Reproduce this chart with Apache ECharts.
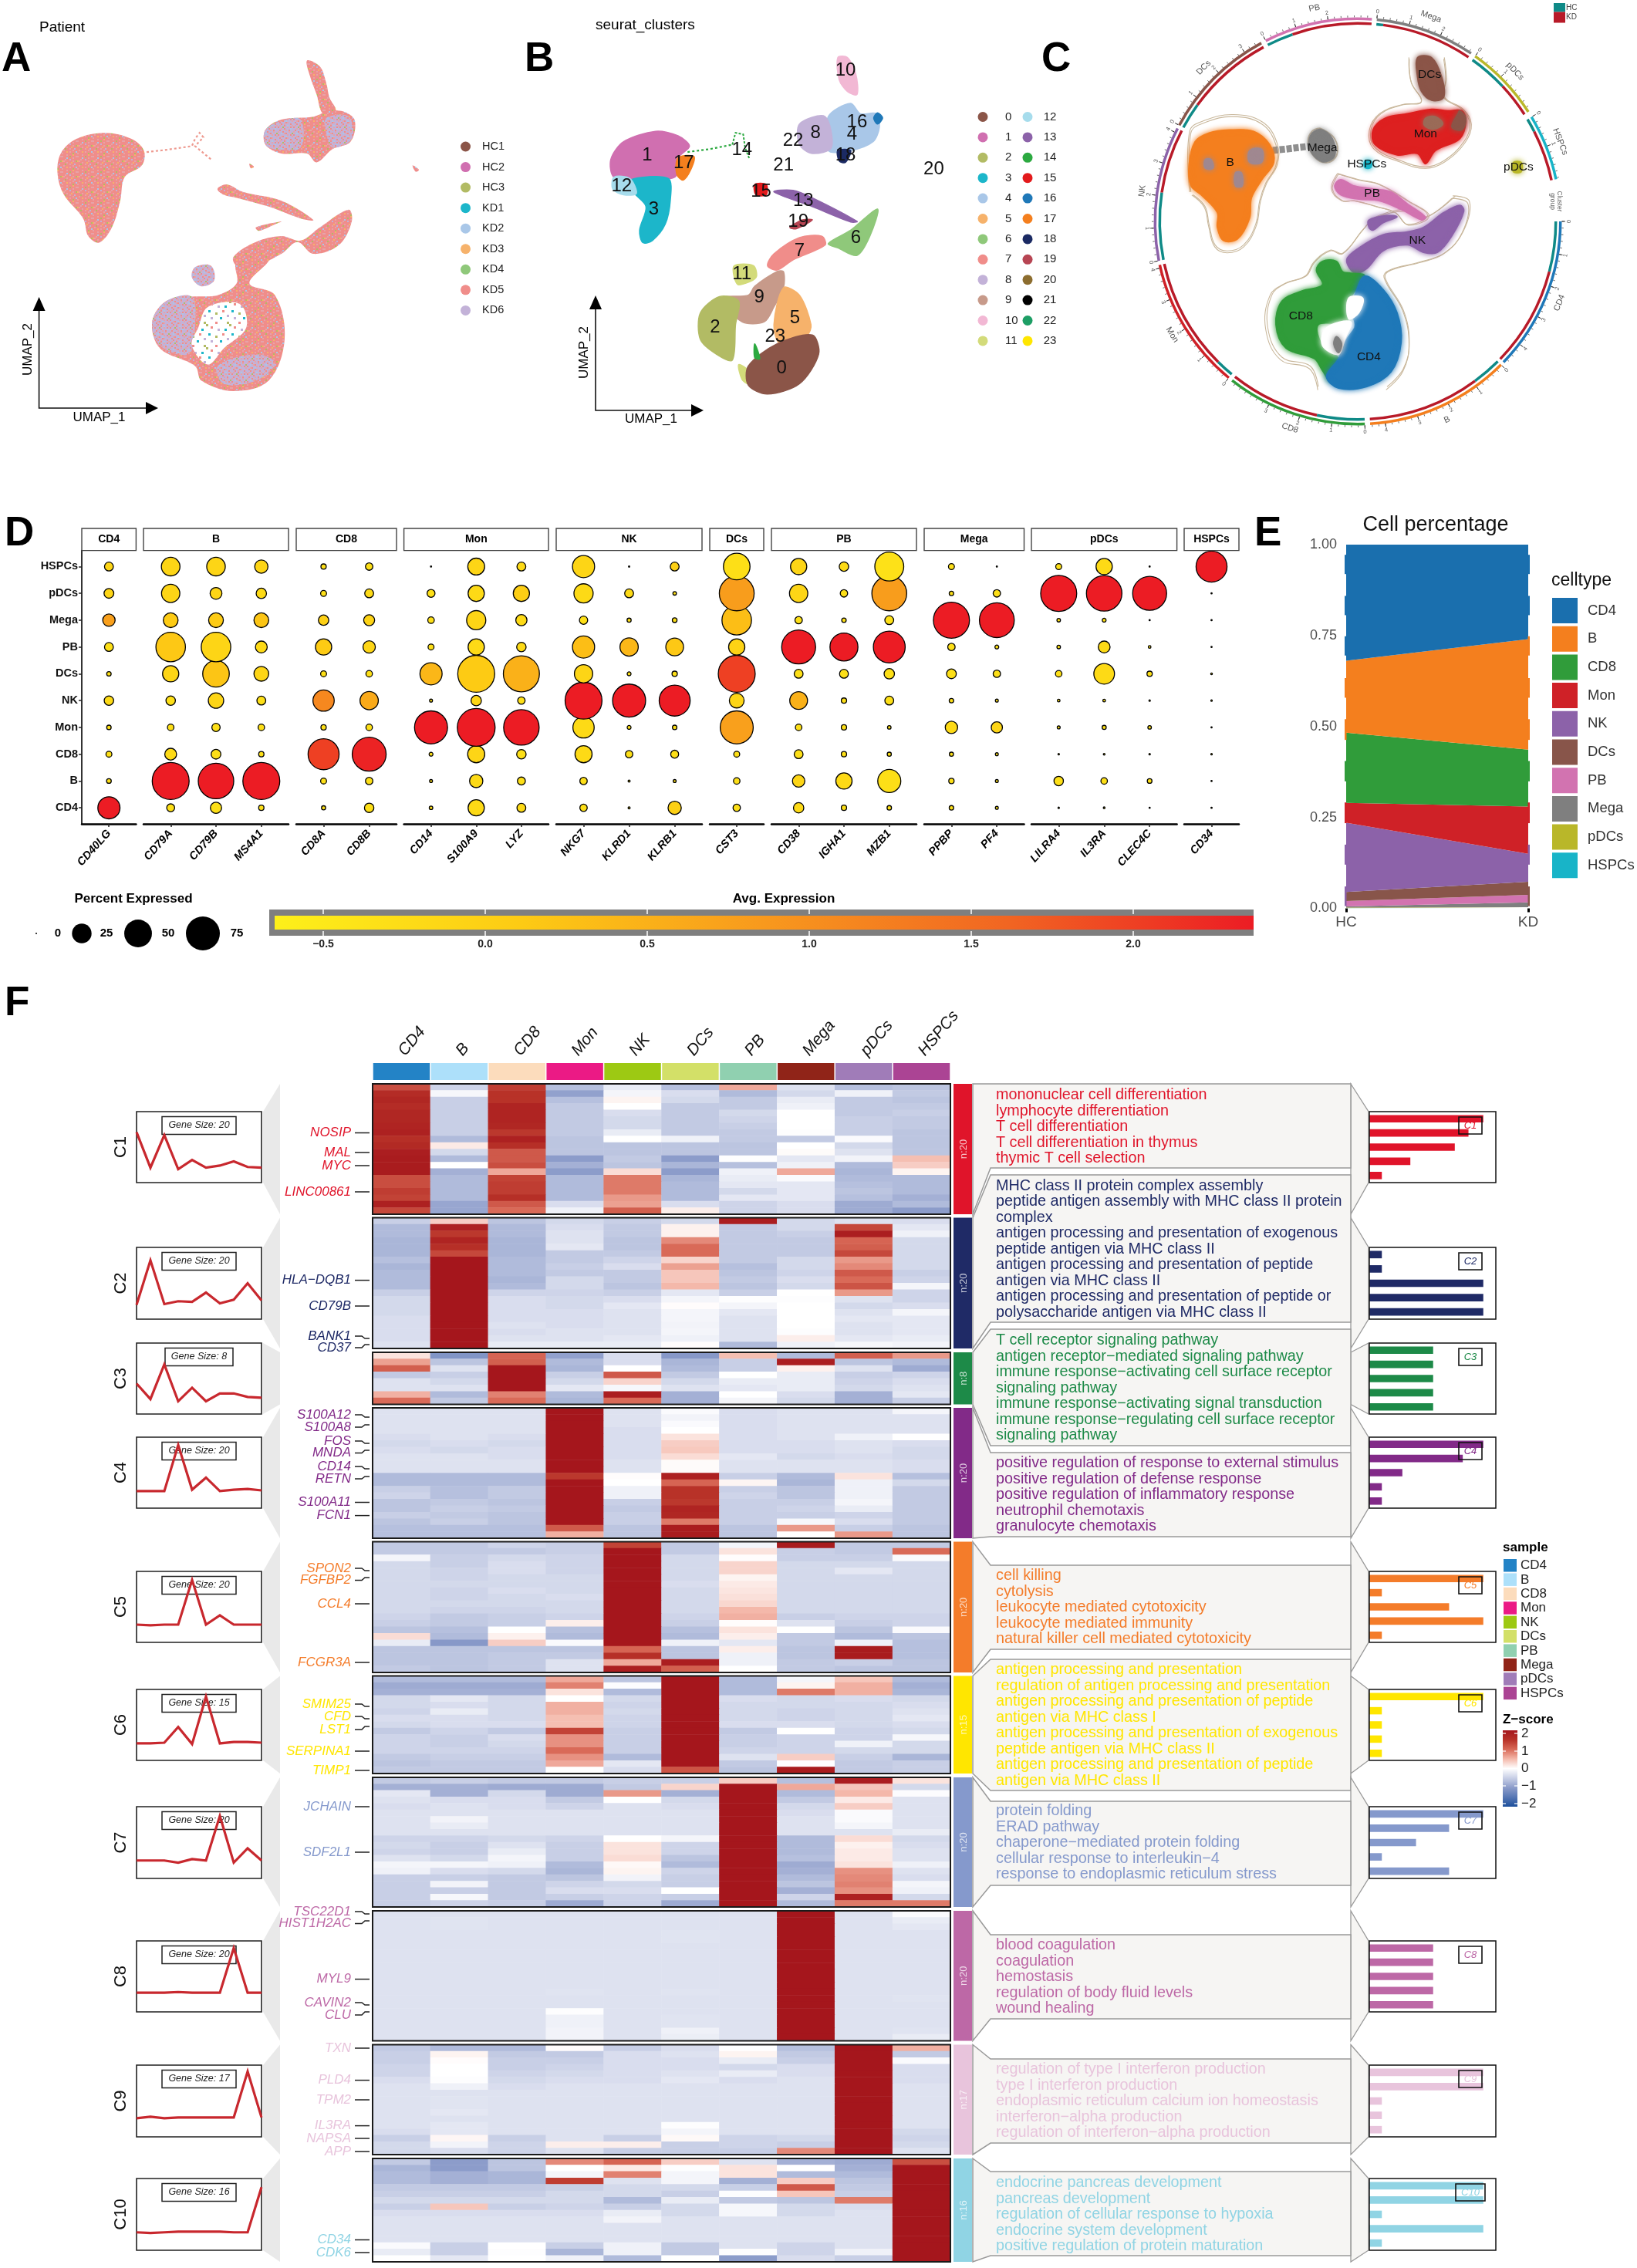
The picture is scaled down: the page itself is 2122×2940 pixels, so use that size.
<!DOCTYPE html>
<html><head><meta charset="utf-8">
<style>html,body{margin:0;padding:0;background:#fff}#c{width:2122px;height:2940px}</style>
<script src="https://cdn.jsdelivr.net/npm/echarts@6/dist/echarts.min.js"></script>
</head><body><div id="c"></div>
<script>
const FONT='"Liberation Sans",Arial,sans-serif';
/* ---------- shared categories ---------- */
const cellTypes=['CD4','B','CD8','Mon','NK','DCs','PB','Mega','pDCs','HSPCs'];
const cellColorsE=['#1a6fae','#f47f1e','#309c3a','#cf2127','#8c62a9','#88554a','#d273b0','#7f7f7f','#b9b729','#18b4c8'];
const sampleColors=['#2383c6','#ade0fa','#fcdcbc','#eb1a85','#9dc913','#d3e068','#90d0b0','#902418','#a07cb8','#ab4494'];
/* ---------- panel A / B legends ---------- */
const patientNames=['HC1','HC2','HC3','KD1','KD2','KD3','KD4','KD5','KD6'];
const patientColors=['#8b5548','#d06fb0','#b2bb64','#1cb6ca','#a9c7e8','#f6b26b','#8fc87a','#f08d8a','#c3b2d8'];
const clusterColors=['#8b5548','#d06fb0','#b2bb64','#1cb6ca','#a9c7e8','#f6b26b','#8fc87a','#f08d8a','#c3b2d8','#c79a8a','#f2b8d4','#d3db7a','#a6dcec','#8c62a9','#2ca940','#e31a1c','#1f78b8','#f47f1e','#1b2a63','#b74553','#8c6d2f','#000000','#1d9e65','#ffe600'];
/* ---------- panel A UMAP outlines ---------- */
const umapA=[
 {t:'mix',pts:[[165,450],[205,470],[225,510],[222,560],[195,600],[188,680],[175,770],[155,822],[138,800],[130,740],[100,660],[90,590],[95,520],[120,470]]},
 {t:'mix',pts:[[415,440],[440,405],[490,395],[515,375],[540,380],[555,410],[548,480],[520,505],[495,550],[480,520],[440,520],[415,490]]},
 {t:'pur',pts:[[415,440],[440,410],[470,405],[470,500],[430,505],[415,490]]},
 {t:'pur',pts:[[510,400],[545,395],[550,470],[520,500],[510,450]]},
 {t:'mix',pts:[[480,205],[500,225],[510,280],[515,330],[525,375],[505,385],[495,320],[485,260]]},
 {t:'mix',pts:[[545,710],[550,750],[530,830],[490,860],[465,820],[440,860],[400,900],[370,900],[365,870],[400,820],[440,800],[470,815],[500,770]]},
 {t:'mix',pts:[[370,890],[420,880],[390,960],[430,1000],[445,1150],[420,1290],[365,1325],[315,1290],[305,1240],[250,1180],[238,1090],[260,1020],[300,1005],[340,1000],[370,960]]},
 {t:'pur',pts:[[238,1090],[260,1020],[300,1005],[305,1100],[295,1200],[250,1170]]},
 {t:'pur',pts:[[340,1240],[400,1200],[430,1230],[400,1290],[350,1300]]},
 {t:'hole',pts:[[325,1040],[375,1030],[385,1110],[350,1180],[325,1235],[300,1170],[310,1110]]},
 {t:'mix',pts:[[340,640],[355,625],[380,650],[440,680],[490,745],[470,740],[420,700],[370,670],[350,660]]},
 {t:'mix',pts:[[400,770],[440,750],[430,760],[405,782]]},
 {t:'pur',pts:[[305,905],[330,900],[335,950],[315,970],[300,940]]},
 {t:'mix',pts:[[645,560],[655,575],[650,582]]},
 {t:'mix',pts:[[390,555],[397,565],[392,570]]}
];
const threadsA=[
 {color:'#ee9a90',w:2.2,dash:[3,3],pts:[[222,517],[262,507],[300,495],[305,470],[312,450],[318,465],[305,495],[330,540]]}
];
/* ---------- panel B UMAP outlines ---------- */
const umapB=[
 {c:1,pts:[[1025,445],[1060,460],[1078,495],[1060,535],[1055,600],[1000,605],[960,600],[955,540],[975,480]]},
 {c:3,pts:[[985,610],[1045,605],[1048,680],[1040,760],[1020,815],[1005,822],[1000,780],[1010,700],[990,650]]},
 {c:12,pts:[[960,600],[985,605],[995,655],[975,660],[958,640]]},
 {c:17,pts:[[1060,535],[1085,530],[1080,575],[1068,610],[1058,590]]},
 {c:10,pts:[[1310,195],[1325,195],[1338,250],[1340,320],[1325,310],[1312,270]]},
 {c:4,pts:[[1295,395],[1330,350],[1345,385],[1370,385],[1375,430],[1365,480],[1330,510],[1295,510]]},
 {c:8,pts:[[1250,420],[1290,395],[1300,500],[1270,520],[1250,490]]},
 {c:16,pts:[[1372,382],[1380,400],[1372,420],[1366,400]]},
 {c:18,pts:[[1310,510],[1330,510],[1322,550],[1312,545]]},
 {c:15,pts:[[1180,625],[1198,625],[1198,660],[1182,660]]},
 {c:13,pts:[[1210,650],[1240,645],[1270,670],[1340,750],[1330,752],[1270,700]]},
 {c:19,pts:[[1235,770],[1255,745],[1270,745],[1245,775]]},
 {c:6,pts:[[1372,708],[1360,800],[1340,865],[1310,840],[1295,825],[1330,780]]},
 {c:7,pts:[[1250,805],[1285,800],[1290,830],[1240,880],[1215,915],[1200,900],[1210,860]]},
 {c:11,pts:[[1148,900],[1178,900],[1182,940],[1155,965],[1148,940]]},
 {c:9,pts:[[1215,920],[1225,920],[1225,975],[1210,1040],[1195,1090],[1160,1090],[1130,1010],[1170,1000],[1180,970]]},
 {c:2,pts:[[1125,1005],[1155,1020],[1150,1100],[1145,1220],[1120,1200],[1095,1150],[1095,1060]]},
 {c:5,pts:[[1225,975],[1250,1000],[1268,1100],[1262,1135],[1220,1165],[1210,1100]]},
 {c:11,pts:[[1155,1235],[1172,1260],[1170,1300],[1160,1285]]},
 {c:0,pts:[[1270,1135],[1280,1200],[1250,1300],[1200,1335],[1170,1305],[1170,1240],[1215,1165]]},
 {c:14,pts:[[1180,1165],[1188,1215],[1180,1212]]}
];
const threadsB=[{color:'#2ca940',w:2.2,dash:[3,3],pts:[[1075,515],[1110,505],[1145,490]]},{color:'#2ca940',w:2,dash:[3,2],pts:[[1145,490],[1150,450],[1162,455],[1165,500],[1172,540]]}];
const labelsB=[['1',1012,525],['12',972,632],['3',1022,710],['17',1069,552],['14',1160,508],['10',1322,240],['8',1275,450],['4',1332,457],['16',1340,415],['22',1240,477],['21',1225,560],['18',1322,527],['20',1460,573],['15',1190,650],['13',1256,680],['19',1248,752],['6',1338,805],['7',1250,850],['11',1160,930],['9',1187,1008],['5',1243,1077],['2',1118,1108],['23',1212,1140],['0',1222,1248]];
/* ---------- panel C UMAP outlines ---------- */
const umapC=[
 {color:'#f47f1e',pts:[[560,440],[620,445],[660,490],[670,550],[640,610],[615,670],[610,740],[580,810],[545,815],[530,770],[530,720],[490,660],[465,630],[460,560],[475,480],[510,450]]},
 {color:'#7f7f7f',pts:[[785,438],[815,470],[820,530],[790,548],[760,510],[760,460]]},
 {color:'#dd2020',pts:[[1000,385],[1060,370],[1100,375],[1135,375],[1145,410],[1130,470],[1070,510],[1045,555],[1025,520],[975,525],[920,490],[915,440],[945,400]]},
 {color:'#8b5548',pts:[[1025,195],[1060,195],[1085,260],[1090,330],[1060,340],[1035,310],[1025,260]]},
 {color:'#8b5548',pts:[[1130,375],[1145,400],[1135,440],[1110,430],[1125,385]]},
 {color:'#9a6b58',pts:[[1045,400],[1070,395],[1088,420],[1065,438],[1042,425]]},
 {color:'#18b4c8',pts:[[895,545],[910,545],[910,568],[895,568]]},
 {color:'#b9b729',pts:[[1262,550],[1282,550],[1282,582],[1262,582]]},
 {color:'#d273b0',pts:[[835,608],[870,630],[920,640],[960,650],[1000,690],[1045,735],[1035,745],[985,710],[930,680],[880,675],[835,660],[820,630]]},
 {color:'#8c62a9',pts:[[1130,695],[1140,715],[1110,800],[1075,855],[1040,855],[1000,830],[940,850],[900,910],[870,925],[850,880],[880,840],[940,795],[1000,785],[1040,770],[1090,720]]},
 {color:'#8c62a9',pts:[[905,745],[950,730],[975,735],[940,755],[915,780],[905,770]]},
 {color:'#309c3a',pts:[[790,885],[825,885],[840,920],[860,925],[895,935],[860,1010],[850,1090],[780,1100],[790,1170],[830,1215],[810,1290],[790,1255],[770,1215],[700,1180],[675,1100],[690,1020],[740,985],[790,965],[775,915]]},
 {color:'#1f78b8',pts:[[895,935],[940,980],[975,1060],[985,1160],[960,1260],[900,1310],[830,1315],[800,1275],[830,1215],[850,1150],[870,1110],[870,1090],[860,1050],[870,1000]]},
 {color:'#ffffff',pts:[[800,1110],[860,1090],[845,1150],[830,1200],[790,1170]]},
 {color:'#ffffff',pts:[[855,1010],[890,1010],[880,1060],[855,1080]]},
 {color:'#7f7f7f',pts:[[825,1140],[838,1165],[830,1195],[818,1165]]},
 {color:'#a08890',pts:[[610,510],[640,505],[640,550],[610,550]]},
 {color:'#a08890',pts:[[500,540],[515,540],[520,570],[500,570]]},
 {color:'#a08890',pts:[[575,585],[590,585],[592,630],[575,630]]}
];
const threadsC=[{color:'#8f8f8f',w:9,dash:[7,2],pts:[[650,512],[700,505],[760,495]]}];
const contoursC=[
 [[465,650],[465,450],[500,415],[570,395],[640,420],[675,490],[675,560],[650,620],[635,680],[625,760],[595,830],[555,850],[525,830],[510,760],[500,700],[470,660]],
 [[1005,200],[1010,280],[1035,345],[990,355],[935,385],[910,440],[920,500],[985,545],[1045,565],[1090,545],[1140,480],[1155,420],[1135,370],[1090,330],[1095,270],[1090,200]],
 [[785,435],[820,470],[825,525],[800,550],[770,530],[755,480],[765,445],[785,435]],
 [[830,590],[880,610],[930,625],[1000,680],[1050,730],[1000,760],[970,720],[925,700],[870,680],[840,680],[815,640],[830,590]],
 [[1110,672],[1150,690],[1135,790],[1090,860],[1030,890],[960,915],[945,940],[990,1050],[1005,1160],[990,1250],[950,1310]],
 [[780,1310],[760,1240],[690,1210],[655,1110],[665,1000],[700,960],[750,935],[770,890],[810,850],[840,860],[890,780],[920,740],[1000,715],[1040,740],[1110,672]]
];
const labelsC=[['B',562,550],['Mega',790,502],['DCs',1055,252],['Mon',1045,455],['HSPCs',900,555],['pDCs',1275,566],['PB',913,656],['NK',1025,815],['CD8',737,1072],['CD4',905,1210]];
/* circular track, degrees clockwise from east */
const sectorNames=['CD4','B','CD8','Mon','NK','DCs','PB','Mega','pDCs','HSPCs'];
const sectorStart=[0,45,88,129.5,168.8,208.3,243,275.4,305.4,329];
const sectorEnd=[44,86.5,128.3,167.6,207.3,241.6,274,304,327.3,348];
const sectorHcEnd=[14.7,53.7,101.9,134.8,188.4,216,250.8,277.4,317,333];
const sectorColors=['#1f78b8','#f47f1e','#309c3a','#cf2127','#8c62a9','#88554a','#d273b0','#7f7f7f','#b9b729','#18b4c8'];
const sectorTicks=[5,5,4,5,5,4,3,3,2,2];
/* ---------- panel D ---------- */
const dotRows=['CD4','B','CD8','Mon','NK','DCs','PB','Mega','pDCs','HSPCs'];
const facetNames=['CD4','B','CD8','Mon','NK','DCs','PB','Mega','pDCs','HSPCs'];
const facetGenes=[['CD40LG'],['CD79A','CD79B','MS4A1'],['CD8A','CD8B'],['CD14','S100A9','LYZ'],['NKG7','KLRD1','KLRB1'],['CST3'],['CD38','IGHA1','MZB1'],['PPBP','PF4'],['LILRA4','IL3RA','CLEC4C'],['CD34']];
const pctExpressed=[
[32,1.45,2.3,1.3,5.8,1.3,5.1,10,6.2,5.1],
[4.1,88.8,9.1,2.75,5.8,17.2,56.8,14.2,21.8,22.5],
[8.2,82,6.2,4.45,15.4,46,56.8,14.2,9.1,22.5],
[1.84,88.8,1.84,2.75,5.1,14.2,9.1,14.2,7,11.5],
[1.1,2.3,62.6,1.84,29.5,2.3,17.2,7,2.3,1.84],
[5.8,3.55,75,2.75,21.8,2.75,10,7.8,5.1,3.55],
[.82,.57,.96,71,.57,32,2.3,2.75,4.1,.05],
[17.2,11.5,19,93,7,88.8,17.2,24,17.2,18.5],
[5.1,4.1,5.8,82,3.55,84.6,5.8,8.2,17.2,5.1],
[3.55,3.55,19,29.5,88.8,21.8,32,4.45,24,32],
[.28,.28,3.55,.96,71,.96,21.8,1.1,5.1,.1],
[11.5,.57,4.1,1.3,62.6,1.84,20.5,1.45,.82,5.1],
[3.55,2.75,2.3,71,14.2,88.8,17.2,56.8,79,46],
[7,10,5.1,2.75,20.5,5.1,75,3.55,21.8,17.2],
[1.84,17.2,1.84,1.84,1.84,5.1,51,1.3,3.55,5.8],
[1.3,34.6,1.1,.82,5.1,7,66,5.1,79,54.6],
[1.3,1.84,1.1,10,1.3,6.2,3.55,84.6,1.3,2.3],
[.57,.57,.57,8.2,.57,3.55,.96,79,3.55,.05],
[.14,5.8,.14,.57,.46,2.75,.82,.82,84.6,2.3],
[.2,2.75,.2,1.1,.46,27.8,9.1,.96,82,17.2],
[.05,1.45,.14,.82,.14,1.84,.46,.05,75,.05],
[.1,.02,.14,.02,.14,.2,.02,.02,.05,62.6]];
const avgExpression=[
[2.37,-.3,-.3,-.3,-.2,-.3,-.3,.75,-.1,-.1],
[-.3,2.37,-.2,-.3,-.3,-.1,.15,.1,-.1,-.1],
[-.3,2.37,-.3,-.3,-.1,.2,-.1,.1,-.1,-.1],
[-.3,2.37,-.3,-.3,-.3,-.1,-.2,.2,-.2,-.1],
[-.3,-.3,2,-.3,1.1,-.3,.1,0,-.3,-.3],
[-.3,-.3,2.3,-.3,.6,-.3,-.1,-.05,-.2,-.3],
[-.3,-.3,-.3,2.37,-.3,.4,-.3,-.3,-.3,-.3],
[-.2,-.2,-.1,2.37,-.1,.1,-.2,-.1,-.2,-.1],
[-.2,-.3,-.3,2.37,-.3,.5,-.2,-.2,.05,-.2],
[-.3,-.3,-.2,-.2,2.37,-.1,.3,-.3,-.2,-.1],
[-.3,-.3,-.3,-.3,2.37,-.3,.4,-.3,-.2,-.3],
[0,-.3,-.3,-.3,2.37,-.3,.15,-.3,-.3,0],
[-.3,-.3,-.3,.75,-.1,2,-.05,.3,.8,-.3],
[-.2,-.1,-.3,-.3,.5,-.3,2.37,-.3,-.1,-.1],
[-.3,-.2,-.3,-.3,-.3,-.3,2.37,-.3,-.3,-.2],
[-.3,-.3,-.3,-.3,-.3,-.3,2.37,-.3,.8,-.35],
[-.3,-.3,-.3,-.2,-.3,-.3,-.3,2.37,-.3,-.3],
[-.3,-.3,-.3,-.1,-.3,-.3,-.3,2.37,-.3,-.3],
[-.3,-.3,-.3,-.3,-.3,-.3,-.3,-.3,2.37,-.3],
[-.3,-.3,-.3,-.3,-.3,-.2,-.2,-.3,2.37,-.2],
[-.3,-.3,-.3,-.3,-.3,-.3,-.3,-.3,2.37,-.3],
[-.3,-.3,-.3,-.3,-.3,-.3,-.3,-.3,-.3,2.37]];
const exprTicks=[-0.5,0,0.5,1,1.5,2];
const exprColors=['#fdf01a','#fdcb14','#f8991d','#f16522','#ec1c24'];
/* ---------- panel E ---------- */
const hcShare=[.319,.198,.193,.055,.19,.025,.015,.003,.0015,.0005];
const kdShare=[.26,.304,.156,.13,.077,.036,.021,.013,.0025,.0005];
/* stratum bumps on the two edges: value range and colour */
const bumpRanges=[[.972,.919],[.859,.806],[.748,.695],[.633,.579],[.52,.463],[.405,.349],[.291,.234],[.175,.12],[.06,.006]];
const bumpColorsHC=['#1a6fae','#1a6fae','#1a6fae','#f47f1e','#f47f1e','#309c3a','#cf2127','#8c62a9','#8c62a9'];
const bumpColorsKD=['#1a6fae','#1a6fae','#f47f1e','#f47f1e','#f47f1e','#309c3a','#cf2127','#8c62a9','#88554a'];
/* ---------- panel F ---------- */
const clusterColorF=['#e0142a','#1f2a66','#1d8a48','#822a88','#f47c2a','#ffe600','#8599cc','#bd68a6','#e8c4dc','#90d4e4'];
const geneSize=[20,20,8,20,20,15,20,20,17,16];
const heatC1=[
[1.25,-.45,1.4,-.65,-.2,-.65,.6,-.3,-.65,-.6],[1.6,-.08,1.5,-.95,-.1,-.35,-.7,-.4,-.15,-.55],[1.7,-.5,1.5,-.65,.08,-.4,-.55,-.2,-.55,-.6],[1.6,-.5,1.75,-.55,0,-.55,-.55,-.15,-.55,-.55],[1.7,-.5,1.75,-.55,-.35,-.55,-.4,0,-.55,-.5],[1.7,-.5,1.75,-.55,-.4,-.55,-.45,0,-.5,-.55],[1.75,-.5,1.7,-.55,-.4,-.55,-.5,0,-.5,-.55],[1.8,-.5,1.45,-.55,-.2,-.55,-.55,-.02,-.5,-.6],[1.55,-.7,1.8,-.6,0,-.15,-.55,-.55,-.05,-.6],[1.65,.15,1.55,-.6,-.6,-.6,-.6,0,-.4,-.6],
[1.85,-.4,1.15,-.6,-.6,-.6,-.6,.03,-.3,-.6],[1.9,-.7,1.15,-1,-.55,-1,-.02,-.25,-.12,.45],[1.9,0,1.25,-.8,-.6,-.75,-.65,-.15,-.7,.35],[1.9,-.8,.6,-1,.25,-1,-.15,.6,-.75,.08],[1.25,-.7,1.35,-.7,.9,-.75,-.2,-.05,-.7,-.7],[1.25,-.7,1.4,-.7,.9,-.7,-.25,-.25,-.65,-.7],[1.4,-.7,1.4,-.7,.9,-.7,-.4,-.25,-.6,-.7],[1.35,-.7,1.55,-.7,.7,-.7,-.25,-.25,-.65,-.8],[1.8,-.9,1.15,-.35,.65,-.35,-.45,-.35,-.85,-.7],[1.3,-.9,1,-.15,1.1,.12,-.45,-.35,-.85,-1]];
const heatC2=[
[-.5,.35,-.6,-.4,-.5,-.4,1.85,-.4,-.3,-.35],[-.7,1.8,-.7,-.35,-.55,.1,-.55,-.4,1.3,-.25],[-.7,1.45,-.7,-.3,-.55,.1,-.55,-.5,1.85,-.15],[-.75,1.75,-.75,-.3,-.6,.8,-.55,-.55,1.05,-.4],[-.75,1.55,-.75,-.25,-.6,1,-.55,-.55,1.1,-.4],[-.75,1.3,-.75,-.55,-.55,1,-.55,-.55,1.3,-.4],[-.65,2,-.7,-.55,-.45,.3,-.55,-.4,.7,-.4],[-.75,2,-.7,-.5,-.35,.65,-.65,-.4,.8,-.4],[-.7,2,-.7,-.55,-.55,.4,-.6,-.45,1.15,-.5],[-.7,2,-.75,-.4,-.55,.4,-.55,-.35,1,-.45],
[-.7,2,-.7,-.4,-.6,.5,-.6,-.4,1.2,-.1],[-.5,2,-.45,-.45,-.5,-.25,-.5,0,.7,-.45],[-.4,2,-.35,-.4,-.35,-.1,-.02,-.02,-.3,-.45],[-.4,2,-.35,-.4,-.25,.02,-.1,0,-.4,-.35],[-.4,2,-.35,-.35,-.3,-.1,-.25,0,-.3,-.1],[-.35,2,-.35,-.35,-.3,-.1,-.3,0,-.25,-.25],[-.35,2,-.3,-.35,-.3,-.12,-.3,0,-.3,-.25],[-.35,2,-.35,-.3,-.3,-.1,-.3,-.02,-.3,-.25],[-.35,2,-.3,-.3,-.25,-.15,-.3,.12,-.25,-.2],[-.3,2,-.2,-.2,-.2,.02,-.7,-.15,-.08,-.12]];
const heatC3=[
[.2,-1.1,1.05,-.95,-.35,-1.05,.45,-.7,1.1,.7],[.65,-.6,1.1,-.7,-.35,-.75,-.5,1.85,-.6,-.7],[1.1,-.3,2,-.75,0,-.7,-.5,.1,-.3,-.85],[-.55,-.5,2,-.5,1.15,-.55,0,-.2,-.5,-.45],[-.3,-.4,2,-.4,.3,-.4,-.2,-.2,-.45,-.35],[-.3,-.3,2,-.25,-.08,-.3,-.25,-.2,-.4,-.3],[.55,-.7,.85,-.7,1.85,-.8,0,-.35,-.8,-.25],[1,-.55,1,-.75,1,-.8,-.1,-.4,-.8,-.5]];
const heatC4=[
[-.3,-.3,-.3,2,-.3,-.05,-.35,-.3,-.3,-.1],[-.3,-.3,-.3,2,-.3,-.12,-.35,-.3,-.3,-.3],[-.3,-.3,-.3,2,-.3,-.05,-.35,-.3,-.3,-.3],[-.3,-.3,-.3,2,-.35,0,-.35,-.3,-.3,-.3],[-.35,-.3,-.35,2,-.35,.2,-.35,-.3,-.15,0],[-.4,-.35,-.4,2,-.35,.35,-.35,-.35,-.3,-.35],[-.35,-.4,-.35,2,-.35,.38,-.35,-.35,-.3,-.4],[-.3,-.3,-.35,2,-.35,.25,-.25,-.4,-.35,-.4],[-.3,-.3,-.3,2,-.3,.03,-.3,-.3,-.3,-.35],[-.3,-.3,-.3,2,-.3,.03,-.3,-.3,-.3,-.35],
[-.7,-.7,-.7,1.45,.02,1.8,-.5,-.7,.2,-.65],[-.7,-.7,-.7,2,0,1.05,.07,-.75,-.15,-.4],[-.5,-.65,-.55,2,-.15,1.5,-.5,-.6,-.15,-.55],[-.45,-.65,-.55,2,-.15,1.5,-.45,-.6,-.15,-.55],[-.6,-.55,-.6,2,-.5,1.45,-.5,-.5,-.1,-.55],[-.6,-.5,-.55,2,-.55,1.75,-.5,-.45,-.2,-.55],[-.5,-.55,-.6,2,-.5,1.7,-.5,-.5,-.45,-.55],[-.6,-.5,-.6,2,-.5,.9,-.5,-.08,-.35,-.55],[-.65,-.65,-.65,1.15,-.6,1.9,-.6,.7,-.5,-.6],[-.65,-.65,-.65,.55,-.6,1.9,-.6,0,.7,-.6]];
const heatC5=[
[-.55,-.55,-.45,-.5,1.35,-.55,-.1,1.9,-.55,-.55],[-.55,-.55,-.55,-.5,2,-.55,.2,-.5,-.55,1],[-.1,-.5,-.4,-.45,2,-.4,.02,-.5,-.5,-.05],[-.4,-.5,-.35,-.45,2,-.4,.3,-.4,-.4,-.4],[-.4,-.45,-.35,-.45,2,-.4,.3,-.4,-.25,-.4],[-.4,-.45,-.4,-.4,2,-.4,.08,-.4,-.4,-.4],[-.4,-.4,-.4,-.4,2,-.35,.15,-.4,-.4,-.4],[-.4,-.45,-.35,-.4,2,-.4,.18,-.4,-.4,-.4],[-.4,-.45,-.4,-.35,2,-.4,.22,-.4,-.4,-.4],[-.4,-.4,-.4,-.4,2,-.4,.28,-.4,-.4,-.4],
[-.4,-.45,-.45,-.4,2,-.4,.5,-.4,-.4,-.4],[-.45,-.55,-.5,-.45,2,-.45,.55,-.5,-.45,-.45],[-.5,-.55,-.5,.12,2,-.5,.02,-.3,-.5,-.45],[-.6,-.65,0,-.65,2,-.65,.2,0,-.6,-.05],[.25,-.7,.1,-.7,2,-.7,.12,-.55,-.7,-.6],[-.2,-1.05,.35,-.05,2,-.15,-.25,-.55,-.15,-.65],[-.6,-.6,-.6,-.6,1.05,-.6,.12,-.6,1.9,-.65],[-.6,-.6,-.55,-.55,1.55,-.6,-.15,-.6,1.9,-.65],[-.6,-.6,-.55,-.3,.6,1.85,-.15,-.55,-.5,-.6],[-.55,-.6,-.55,-.3,1.85,1.1,0,-.55,-.6,-.6]];
const heatC6=[
[-.7,-.7,-.7,.6,-.6,2,-.7,-.1,.4,-.7],[-.85,-.85,-.85,.85,-.03,2,-.7,.08,.55,-.8],[-.8,-.8,-.8,.2,-.7,2,-.7,.9,.55,-.75],[-.4,-.25,-.4,0,-.4,2,-.35,-.4,-.35,-.4],[-.4,-.35,-.4,.55,-.45,2,-.4,-.4,-.4,-.35],[-.45,-.2,-.4,.55,-.4,2,-.4,-.45,-.4,-.3],[-.35,-.35,-.4,.45,-.45,2,-.4,-.45,-.4,-.25],[-.4,-.35,-.35,.45,-.45,2,-.35,-.35,-.4,-.35],[-.55,-.45,-.55,1.35,-.5,2,-.55,0,-.45,-.4],[-.45,-.5,-.35,.75,-.5,2,-.5,-.45,-.45,-.08],[-.45,-.5,-.4,.75,-.5,2,-.5,-.45,-.15,-.4],[-.45,-.45,-.45,1,-.5,2,-.45,-.45,-.4,-.4],[-.55,-.5,-.5,.75,-.7,2,-.3,.35,-.5,-.75],[-.6,-.55,-.55,.6,-.25,2,-.55,0,-.55,-.5],[-.55,-.55,-.55,0,-.35,1.2,-.6,1.9,-.55,-.5]];
const heatC7=[
[-.55,-.5,-.55,-.55,-.5,-.5,.35,-.65,1.85,.2],[-.8,-.8,-.85,-.85,-.55,.3,2,.6,.4,-.4],[-.25,-.8,-.4,-.85,.7,-.8,2,-.7,.5,-.03],[-.3,-.35,-.35,-.55,0,-.4,2,-.55,.15,-.3],[-.35,-.3,-.35,-.45,-.3,-.35,2,-.4,.35,-.3],[-.3,-.3,-.3,-.3,-.3,-.3,2,-.35,-.05,-.3],[-.3,-.12,-.3,-.3,-.3,-.3,2,-.3,-.05,-.3],[-.3,-.2,-.3,-.3,-.3,-.3,2,-.3,-.1,-.3],[-.3,-.3,-.3,-.3,-.3,-.3,2,-.3,-.3,-.2],[-.45,-.45,-.4,-.45,0,-.1,2,-.7,.25,-.4],
[-.4,-.5,-.3,-.5,.2,-.45,2,-.7,.1,-.35],[-.45,-.5,-.2,-.5,.2,-.45,2,-.7,.15,-.3],[-.3,-.4,-.1,-.5,.25,-.6,2,-.65,.15,-.3],[-.1,-.1,-.15,-.7,.05,-.7,2,-.85,.2,-.15],[-.15,-.35,-.4,-.75,.08,-.45,2,-.8,.75,-.3],[-.5,-.5,-.55,-.6,-.12,-.5,2,-.7,.8,-.35],[-.5,-.12,-.55,-.45,-.4,-.5,2,-.6,.85,-.1],[-.5,-.5,-.55,-.35,-.35,0,2,-.8,.75,-.15],[-.5,-.08,-.55,-.5,-.45,-.5,2,-.45,1.8,-.4],[-.5,-.45,-.5,-.85,-.45,-.85,1.95,-.7,.9,.9]];
const heatC8=[
[-.3,-.3,-.3,-.3,-.3,-.3,-.3,2,-.3,-.05],[-.3,-.28,-.3,-.3,-.3,-.3,-.3,2,-.3,-.2],[-.3,-.28,-.3,-.3,-.3,-.3,-.3,2,-.3,-.25],[-.3,-.3,-.3,-.3,-.3,-.28,-.3,2,-.3,-.3],[-.3,-.3,-.3,-.3,-.3,-.28,-.3,2,-.3,-.3],[-.3,-.3,-.3,-.3,-.3,-.3,-.3,2,-.3,-.3],[-.3,-.3,-.3,-.3,-.3,-.3,-.3,2,-.3,-.3],[-.3,-.3,-.3,-.3,-.3,-.3,-.3,2,-.3,-.3],[-.3,-.3,-.3,-.3,-.3,-.3,-.3,2,-.3,-.3],[-.3,-.3,-.3,-.3,-.3,-.3,-.3,2,-.3,-.3],
[-.3,-.3,-.3,-.3,-.3,-.3,-.3,2,-.3,-.3],[-.3,-.3,-.3,-.3,-.3,-.3,-.3,2,-.3,-.3],[-.3,-.3,-.3,-.28,-.3,-.28,-.3,2,-.3,-.3],[-.3,-.3,-.3,-.3,-.3,-.3,-.3,2,-.3,-.28],[-.3,-.3,-.3,-.3,-.3,-.3,-.3,2,-.3,-.3],[-.3,-.3,-.3,-.02,-.3,-.3,-.3,2,-.3,-.3],[-.3,-.3,-.3,-.15,-.3,-.28,-.3,2,-.3,-.3],[-.3,-.3,-.3,-.15,-.3,-.28,-.3,2,-.3,-.3],[-.3,-.3,-.3,-.12,-.3,-.15,-.3,2,-.3,-.28],[-.3,-.3,-.3,-.12,-.3,-.18,-.3,2,-.3,-.2]];
const heatC9=[
[-.55,-.7,-.7,.02,-.5,-.35,0,-.65,2,.55],[-.5,.08,-.55,-.55,-.35,-.3,.08,-.55,2,-.55],[-.5,.02,-.5,-.5,-.35,-.35,-.2,-.5,2,-.05],[-.45,0,-.5,-.45,-.35,-.35,-.4,-.35,2,-.35],[-.45,0,-.45,-.4,-.35,-.3,-.2,-.35,2,-.35],[-.35,-.02,-.4,-.35,-.35,-.25,-.35,-.3,2,-.35],[-.3,-.15,-.35,-.3,-.3,-.3,-.3,-.3,2,-.3],[-.3,-.3,-.3,-.3,-.3,-.3,-.3,-.3,2,-.3],[-.3,-.28,-.3,-.3,-.3,-.3,-.3,-.3,2,-.3],[-.3,-.28,-.3,-.3,-.3,-.3,-.3,-.3,2,-.3],[-.3,-.25,-.3,-.3,-.3,-.3,-.3,-.3,2,-.3],[-.3,-.3,-.3,-.3,-.3,-.3,-.3,-.3,2,-.3],[-.3,-.25,-.3,-.3,-.3,-.02,-.3,-.3,2,-.3],[-.35,-.25,-.3,-.3,-.3,-.1,-.3,-.3,2,-.4],[-.5,.06,-.5,-.3,-.5,.04,-.45,-.4,2,-.45],[-.4,-.12,-.45,.12,.12,-.5,-.45,-.5,2,-.4],[-.4,-.35,-.45,-.3,-.5,-.5,-.5,.8,2,-.3]];
const heatC10=[
[-.55,-1,-.6,.8,1.05,.35,-.3,-.8,-.85,1.25],[-.75,-1,-.6,0,.15,-.02,.2,0,-.8,2],[-.7,-.8,-.75,-.1,.85,-.1,.2,-.7,-.7,2],[-.7,-.8,-.75,1.4,-.3,-.1,-.8,.35,-.6,2],[-.55,-.55,-.55,-.5,-.4,-.4,-.5,1.15,-.55,2],[-.5,-.5,-.5,-.4,-.4,-.5,-.02,.4,-.5,2],[-.4,-.4,-.4,-.4,-.7,-.2,-.55,-.6,.9,2],[-.5,.4,-.5,-.45,-.5,-.4,-.08,-.4,-.35,2],[-.35,-.35,-.35,-.35,-.2,-.4,-.08,-.4,-.3,2],[-.3,-.3,-.3,-.3,-.12,-.3,-.3,-.3,-.3,2],[-.3,-.3,-.3,-.3,-.3,-.3,-.3,-.3,-.3,2],[-.3,-.3,-.3,-.3,-.3,-.3,-.3,-.3,-.3,2],[-.3,-.3,-.3,-.3,-.3,-.3,-.3,-.3,-.3,2],[-.05,-.5,0,-.5,-.15,-.55,-.3,-.45,-.3,2],[-.2,-.5,-.02,-.75,-.15,-.55,-.02,-.45,-.15,2],[0,-.25,0,-.15,-.7,0,-1,-.35,-.5,2]];
const heatBlocks=[heatC1,heatC2,heatC3,heatC4,heatC5,heatC6,heatC7,heatC8,heatC9,heatC10];
const zScoreColors=['#1c4f9c','#5777b4','#8c9cca','#c8cfe6','#ffffff','#f4b8aa','#d96a58','#b83228','#a5161c'];
const lineProfiles=[
[.71,.21,.67,.19,.32,.21,.24,.30,.22,.21],
[.20,.82,.21,.25,.24,.37,.22,.27,.50,.26],
[.43,.21,.70,.18,.37,.18,.29,.29,.24,.23],
[.24,.24,.24,.89,.26,.43,.24,.26,.27,.25],
[.25,.24,.25,.25,.88,.25,.38,.25,.25,.25],
[.24,.24,.25,.47,.23,.90,.24,.26,.26,.25],
[.25,.25,.25,.22,.27,.25,.87,.22,.42,.25],
[.27,.27,.27,.28,.27,.27,.27,.90,.27,.27],
[.26,.28,.26,.27,.27,.27,.27,.27,.91,.27],
[.25,.24,.25,.26,.26,.26,.26,.25,.25,.88]];
const barProfiles=[
[1,.87,.75,.36,.11],[.11,.11,1,1,1],[.56,.56,.56,.56,.56],[1,.82,.29,.11,.11],[1,.11,.70,1,.11],
[1,.11,.11,.11,.11],[1,.70,.41,.11,.70],[.56,.56,.56,.56,.56],[1,1,.11,.11,.11],[1,1,.11,1,.11]];
const goTerms=[
['mononuclear cell differentiation','lymphocyte differentiation','T cell differentiation','T cell differentiation in thymus','thymic T cell selection'],
['MHC class II protein complex assembly','peptide antigen assembly with MHC class II protein','complex','antigen processing and presentation of exogenous','peptide antigen via MHC class II','antigen processing and presentation of peptide','antigen via MHC class II','antigen processing and presentation of peptide or','polysaccharide antigen via MHC class II'],
['T cell receptor signaling pathway','antigen receptor\u2212mediated signaling pathway','immune response\u2212activating cell surface receptor','signaling pathway','immune response\u2212activating signal transduction','immune response\u2212regulating cell surface receptor','signaling pathway'],
['positive regulation of response to external stimulus','positive regulation of defense response','positive regulation of inflammatory response','neutrophil chemotaxis','granulocyte chemotaxis'],
['cell killing','cytolysis','leukocyte mediated cytotoxicity','leukocyte mediated immunity','natural killer cell mediated cytotoxicity'],
['antigen processing and presentation','regulation of antigen processing and presentation','antigen processing and presentation of peptide','antigen via MHC class I','antigen processing and presentation of exogenous','peptide antigen via MHC class II','antigen processing and presentation of peptide','antigen via MHC class II'],
['protein folding','ERAD pathway','chaperone\u2212mediated protein folding','cellular response to interleukin\u22124','response to endoplasmic reticulum stress'],
['blood coagulation','coagulation','hemostasis','regulation of body fluid levels','wound healing'],
['regulation of type I interferon production','type I interferon production','endoplasmic reticulum calcium ion homeostasis','interferon\u2212alpha production','regulation of interferon\u2212alpha production'],
['endocrine pancreas development','pancreas development','regulation of cellular response to hypoxia','endocrine system development','positive regulation of protein maturation']];
const markedGenes=[
[['NOSIP',1468.5,1468.5],['MAL',1494,1494],['MYC',1511,1511],['LINC00861',1545,1545]],
[['HLA\u2212DQB1',1659.6,1659.6],['CD79B',1693,1693],['BANK1',1732,1735],['CD37',1747,1743]],
[],
[['S100A12',1834,1837],['S100A8',1850,1847],['FOS',1868,1871],['MNDA',1883.6,1880],['CD14',1901,1904],['RETN',1917,1914],['S100A11',1947.5,1947.5],['FCN1',1964.6,1964.6]],
[['SPON2',2033,2036],['FGFBP2',2048.5,2045],['CCL4',2079,2079],['FCGR3A',2155,2155]],
[['SMIM25',2209,2212],['CFD',2225,2228],['LST1',2242,2238],['SERPINA1',2270,2270],['TIMP1',2295,2295]],
[['JCHAIN',2342,2342],['SDF2L1',2401,2401]],
[['TSC22D1',2478,2481],['HIST1H2AC',2493.6,2490],['MYL9',2565.6,2565.6],['CAVIN2',2596,2599],['CLU',2612,2608]],
[['TXN',2655,2655],['PLD4',2696.6,2696.6],['TPM2',2722,2722],['IL3RA',2755.6,2755.6],['NAPSA',2772,2772],['APP',2789,2789]],
[['CD34',2903.5,2903.5],['CDK6',2920,2920]]];
/* ---------- layout (page pixels) ---------- */
const clusterTop=[1405,1578.5,1753,1825,1998.6,2172.5,2304,2477,2650.5,2798];
const clusterBottom=[1574,1748,1820.5,1994,2168,2299,2472,2645.5,2793,2932];
const boxTop=[1405,1523,1723,1883,2029,2151,2335,2508,2669,2815];
const boxBottom=[1514,1714,1874,1992,2138,2321,2444,2617,2778,2924];
const miniTop=[1441,1617,1741,1863,2037,2190,2342,2516,2677,2824];
const miniBottom=[1533,1710,1833,1955,2129,2282,2435,2608,2770,2917];
const termStart=[1419.6,1537.5,1738,1897,2042.6,2165,2348,2521.6,2683,2830];
const FS={heatL:483,heatR:1232};

/* ---------- helpers ---------- */
const opt={animation:false,backgroundColor:'#fff',textStyle:{fontFamily:FONT},grid:[],xAxis:[],yAxis:[],series:[],visualMap:[],graphic:[{elements:[]}]};
const G=opt.graphic[0].elements;
function addGrid(rect,x,y){const i=opt.grid.length;opt.grid.push(Object.assign({containLabel:false,show:false},rect));opt.xAxis.push(Object.assign({gridIndex:i},x));opt.yAxis.push(Object.assign({gridIndex:i},y));return i;}
function T(text,x,y,o={}){G.push({type:'text',x,y,rotation:o.rot||0,z:o.z==null?10:o.z,silent:true,style:{text,x:0,y:0,fill:o.color||'#000',fontSize:o.size||15,fontFamily:FONT,fontWeight:o.weight||'normal',fontStyle:o.italic?'italic':'normal',align:o.align||'left',verticalAlign:o.va||'middle'}});}
function R(x,y,w,h,o={}){G.push({type:'rect',z:o.z==null?1:o.z,silent:true,shape:{x,y,width:w,height:h},style:{fill:o.fill||'none',stroke:o.stroke||'none',lineWidth:o.lw||0}});}
function P(points,o={}){G.push({type:o.line?'polyline':'polygon',z:o.z==null?1:o.z,silent:true,shape:{points},style:{fill:o.line?'none':(o.fill||'none'),stroke:o.stroke||'none',lineWidth:o.lw||0}});}
function C(cx,cy,r,fill){G.push({type:'circle',z:5,silent:true,shape:{cx,cy,r},style:{fill}});}
/* textured fills: a hand-typed tile of the sample colours */
const tileColors={s:'#f08d8a',p:'#c3b2d8',g:'#b2bb64',t:'#1cb6ca',o:'#f6b26b',b:'#a9c7e8',m:'#d06fb0',n:'#8fc87a',w:'#ffffff',q:'#e7a3a8'};
const tileMix=['sssqsssoss','qssssgsssq','sssbsssqss','ssqsspssss','oqsssssqsg','sssqssosss','ssgssqssps','sqsssssqss','sssosqsssb','qssssssgss'];
const tilePur=['ppspqpppsp','pqppspbppq','sppgppqpsp','ppqpspppbp','pspppqpspp','qppspppqpp','ppbpqspppg','spppppqpsp','ppqspbpppq','pspppsqppp'];
const tileHole=['wwwwwwwwwg','wswwwwwwww','wwwwpwwtww','wwwwwwwwww','twwwwwswww','wwwgwwwwww','wwwwwwwwpw','wpwwwtwwww','wwwwwwwwww','wwwswwwwgw'];
function tile(rows,px){const c=document.createElement('canvas');c.width=c.height=10*px;const x=c.getContext('2d');rows.forEach((r,j)=>[...r].forEach((k,i)=>{x.fillStyle=tileColors[k];x.fillRect(i*px,j*px,px,px);}));return {image:c,repeat:'repeat'};}
const fills={mix:tile(tileMix,2),pur:tile(tilePur,2),hole:tile(tileHole,3)};
function polySeries(grid,shapes,smooth,blur){opt.series.push({type:'custom',xAxisIndex:grid,yAxisIndex:grid,silent:true,clip:false,z:2,data:shapes.map(s=>s.pts[0]),renderItem(p,api){const s=shapes[p.dataIndex];const st={fill:s.fill,stroke:s.fill.image?'none':s.fill,lineWidth:1.5};if(blur){st.shadowBlur=blur;st.shadowColor=s.fill;}return {type:'polygon',shape:{points:s.pts.map(q=>api.coord(q)),smooth},style:st};}});}
function threadSeries(grid,lines){opt.series.push({type:'custom',xAxisIndex:grid,yAxisIndex:grid,silent:true,clip:false,z:2,data:lines.map(s=>s.pts[0]),renderItem(p,api){const s=lines[p.dataIndex];return {type:'polyline',shape:{points:s.pts.map(q=>api.coord(q))},style:{stroke:s.color,lineWidth:s.w,fill:'none',lineDash:s.dash||null}};}});}
function textSeries(grid,labels,size){opt.series.push({type:'custom',xAxisIndex:grid,yAxisIndex:grid,silent:true,clip:false,z:4,data:labels.map(l=>[l[1],l[2]]),renderItem(p,api){const l=labels[p.dataIndex];const c=api.coord([l[1],l[2]]);return {type:'text',z2:10,style:{text:l[0],x:c[0],y:c[1],fill:'#111',fontSize:size,fontFamily:FONT,align:'center',verticalAlign:'middle'}};}});}

/* ---------- panels A + B ---------- */
const gAB=addGrid({left:0,top:0,width:1300,height:600},{type:'value',min:0,max:1568,show:false},{type:'value',min:0,max:1568,inverse:true,show:false});
threadSeries(gAB,threadsA);
polySeries(gAB,umapA.map(s=>({pts:s.pts,fill:fills[s.t]})),0.35);
threadSeries(gAB,threadsB);
polySeries(gAB,umapB.map(s=>({pts:s.pts,fill:clusterColors[s.c]})),0.3);
textSeries(gAB,labelsB,24);
T('Patient',51,35.6,{size:19});T('seurat_clusters',772,33,{size:19});
[['A',2,77],['B',680,77],['C',1350,77],['D',6,692],['E',1626,692],['F',6,1301]].forEach(l=>T(l[0],l[1],l[2],{size:53,weight:'bold'}));
patientNames.forEach((n,i)=>{const y=190+i*26.55;C(603.5,y,6.5,patientColors[i]);T(n,625,y,{size:14.5,color:'#222'});});
clusterColors.forEach((c,i)=>{const col=i>=12?1:0,y=151.5+(i%12)*26.4;C(col?1332:1274,y,6.5,c);T(String(i),col?1361:1303,y,{size:15,color:'#222',align:col?'center':'left'});});
function umapAxes(x,yTop,yBot,xEnd,lx,ly,bx,by){P([[x,yTop],[x,yBot],[xEnd,yBot]],{line:true,stroke:'#111',lw:1.6});P([[x,yTop-9],[x-8,yTop+9],[x+8,yTop+9]],{fill:'#000',z:5});P([[xEnd+9,yBot],[xEnd-7,yBot-8],[xEnd-7,yBot+8]],{fill:'#000',z:5});T('UMAP_2',lx,ly,{size:17,rot:Math.PI/2,align:'center'});T('UMAP_1',bx,by,{size:17,align:'center'});}
umapAxes(50.6,394,529,196,36,453,128.5,541);
umapAxes(772,392,532,903,757,457,844,543);

/* ---------- panel C ---------- */
const gC=addGrid({left:1300,top:0,width:822,height:600},{type:'value',min:0,max:1568,show:false},{type:'value',min:0,max:1568,inverse:true,show:false});
opt.series.push({type:'custom',xAxisIndex:gC,yAxisIndex:gC,silent:true,clip:false,z:2,data:contoursC.map(s=>s[0]),renderItem(p,api){const s=contoursC[p.dataIndex];const cx=s.reduce((a,q)=>a+q[0],0)/s.length,cy=s.reduce((a,q)=>a+q[1],0)/s.length;const mk=k=>({type:'polyline',shape:{points:s.map(q=>api.coord([cx+(q[0]-cx)*k,cy+(q[1]-cy)*k])),smooth:.4},style:{stroke:'#c9b89c',fill:'none',lineWidth:1.1}});return {type:'group',children:[mk(1),mk(1.03)]};}});
threadSeries(gC,threadsC);
polySeries(gC,umapC.map(s=>({pts:s.pts,fill:s.color})),0.35,7);
textSeries(gC,labelsC,15.5);
const CX=1760,CY=287;
function ring(seq,radius){opt.series.push({type:'pie',silent:true,center:[CX,CY],radius,startAngle:0,clockwise:true,avoidLabelOverlap:false,label:{show:false},labelLine:{show:false},itemStyle:{borderWidth:0},emphasis:{disabled:true},data:seq});}
const CLEAR={itemStyle:{color:'rgba(0,0,0,0)'}};
const outerSeq=[],innerSeq=[];let last=0;
sectorStart.forEach((s,i)=>{
 if(s>last){outerSeq.push({value:s-last,...CLEAR});innerSeq.push({value:s-last,...CLEAR});}
 outerSeq.push({value:sectorEnd[i]-s,name:sectorNames[i],itemStyle:{color:sectorColors[i]}});
 innerSeq.push({value:sectorHcEnd[i]-s,name:'HC',itemStyle:{color:'#0f8a87'}});
 innerSeq.push({value:sectorEnd[i]-sectorHcEnd[i],name:'KD',itemStyle:{color:'#b81a28'}});
 last=sectorEnd[i];});
outerSeq.push({value:360-last,...CLEAR});innerSeq.push({value:360-last,...CLEAR});
ring(outerSeq,[261,264.5]);ring(innerSeq,[255,258.5]);
/* tick marks round the outer track */
const minorAngles=[];
sectorStart.forEach((s,i)=>{for(let a=s;a<=sectorEnd[i];a+=1.86){minorAngles.push(a);}});
opt.polar={center:[CX,CY],radius:[0,264.5]};
opt.angleAxis={type:'value',min:0,max:360,startAngle:0,clockwise:true,axisLine:{show:false},splitLine:{show:false},axisLabel:{show:false},minorTick:{show:false},axisTick:{show:true,customValues:minorAngles,length:2.5,lineStyle:{color:'#444',width:.8}}};
opt.radiusAxis={show:false,min:0,max:1};
function tangentRot(th){let phi=th+90;while(phi>90)phi-=180;return -phi*Math.PI/180;}
sectorNames.forEach((n,i)=>{const th=(sectorStart[i]+sectorEnd[i])/2,a=th*Math.PI/180;T(n,CX+282*Math.cos(a),CY+282*Math.sin(a),{size:11,color:'#555',align:'center',rot:tangentRot(th)});
 for(let k=0;k<sectorTicks[i];k++){const t=sectorStart[i]+k*9.3,b=t*Math.PI/180;T(String(k),CX+273*Math.cos(b),CY+273*Math.sin(b),{size:7.5,color:'#555',align:'center',rot:tangentRot(t)});
  P([[CX+264.5*Math.cos(b),CY+264.5*Math.sin(b)],[CX+269*Math.cos(b),CY+269*Math.sin(b)]],{line:true,stroke:'#333',lw:1,z:3});}});
T('Cluster',2021,261,{size:8.5,color:'#666',align:'center',rot:-Math.PI/2});T('group',2012,261,{size:8.5,color:'#666',align:'center',rot:-Math.PI/2});
R(2014,4,15,11.5,{fill:'#0f8a87'});R(2014,15.5,15,14,{fill:'#b81a28'});T('HC',2030,10,{size:10,color:'#444'});T('KD',2030,22,{size:10,color:'#444'});

/* ---------- panel D ---------- */
const facetX=[[106,176.4],[186,374],[384,514],[523.6,711],[721,910],[920,990],[1000,1188],[1198,1327.5],[1337,1525.6],[1535,1606]];
const dotSeries=[];let geneIdx=0;const dotRowIdx=[0,1,2,3,4,5,6,7,8,9];
facetGenes.forEach((genes,f)=>{
 const [l,r]=facetX[f],idx=genes.map((g,i)=>i);
 const grid=addGrid({left:l,top:713.6,width:r-l,height:354.4},
  {type:'value',min:-.6,max:genes.length-.4,splitLine:{show:false},axisLine:{onZero:false,lineStyle:{color:'#000',width:2.5}},axisTick:{customValues:idx,length:4,lineStyle:{color:'#222',width:1.5}},axisLabel:{customValues:idx,formatter:v=>genes[v],rotate:48,fontSize:14.5,fontWeight:'bold',fontStyle:'italic',color:'#000',margin:10,fontFamily:FONT}},
  f===0?{type:'value',min:-.6,max:9.6,splitLine:{show:false},axisLine:{onZero:false,lineStyle:{color:'#000',width:1.6}},axisTick:{customValues:dotRowIdx,length:4,lineStyle:{color:'#222',width:1.5}},axisLabel:{customValues:dotRowIdx,formatter:v=>dotRows[v],fontSize:14.5,fontWeight:'bold',color:'#111',margin:5,fontFamily:FONT}}:{type:'value',min:-.6,max:9.6,show:false});
 const data=[];genes.forEach((g,i)=>{dotRows.forEach((rn,k)=>data.push([i,k,pctExpressed[geneIdx][k],avgExpression[geneIdx][k]]));geneIdx++;});
 dotSeries.push(opt.series.length);
 opt.series.push({type:'scatter',xAxisIndex:grid,yAxisIndex:grid,silent:true,clip:false,z:3,symbol:'circle',symbolSize:d=>Math.max(1.5,44*Math.sqrt(d[2]/75)),itemStyle:{borderColor:'#000',borderWidth:1.3,opacity:1},encode:{x:0,y:1},data});
 R(l,685,r-l,28.6,{fill:'#fff',stroke:'#444',lw:1.4,z:4});
 T(facetNames[f],(l+r)/2,699.5,{size:14,weight:'bold',align:'center'});
});
opt.visualMap.push({show:false,type:'continuous',seriesIndex:dotSeries,dimension:3,min:-.65,max:2.37,inRange:{color:exprColors}});
T('Percent Expressed',173,1165,{size:17,weight:'bold',align:'center'});
[[47,0,75,'0'],[106,25,138,'25'],[179,50,218,'50'],[263,75,307,'75']].forEach(k=>{C(k[0],1210,Math.max(1,22*Math.sqrt(k[1]/75)),'#000');T(k[3],k[2],1210,{size:15,weight:'bold',align:'center'});});
T('Avg. Expression',1016,1165,{size:17,weight:'bold',align:'center'});
R(349,1179,1276,34,{fill:'#7f7f7f'});
G.push({type:'rect',z:2,silent:true,shape:{x:356,y:1187,width:1269,height:18},style:{fill:{type:'linear',x:0,y:0,x2:1,y2:0,colorStops:exprColors.map((c,i)=>({offset:i/(exprColors.length-1),color:c}))}}});
exprTicks.forEach(v=>{const x=629+v*420;P([[x,1179],[x,1185]],{line:true,stroke:'#fff',lw:1.5,z:3});P([[x,1207],[x,1213]],{line:true,stroke:'#fff',lw:1.5,z:3});T(v.toFixed(1).replace('-','\u2212'),x,1224.5,{size:14,weight:'bold',align:'center',color:'#222'});});

/* ---------- panel E ---------- */
const gE=addGrid({left:1745,top:706,width:236,height:471.4},
 {type:'category',boundaryGap:false,data:['HC','KD'],axisLine:{show:false},axisTick:{length:5,alignWithLabel:true,lineStyle:{color:'#000',width:3}},axisLabel:{fontSize:19,color:'#4d4d4d',margin:9}},
 {type:'value',min:0,max:1,interval:.25,splitLine:{show:false},axisLine:{show:false},axisTick:{length:5,lineStyle:{color:'#000',width:3}},axisLabel:{fontSize:18,color:'#4d4d4d',margin:12,formatter:v=>v.toFixed(2)}});
for(let i=cellTypes.length-1;i>=0;i--){opt.series.push({type:'line',name:cellTypes[i],xAxisIndex:gE,yAxisIndex:gE,stack:'cells',showSymbol:false,symbol:'none',silent:true,z:2,lineStyle:{width:0},itemStyle:{color:cellColorsE[i]},areaStyle:{color:cellColorsE[i],opacity:1},data:[hcShare[i],kdShare[i]]});}
opt.legend={data:cellTypes,orient:'vertical',left:2012,top:775,padding:0,itemWidth:33,itemHeight:33,itemGap:3.7,icon:'rect',selectedMode:false,textStyle:{fontSize:18.5,color:'#333',fontFamily:FONT,padding:[0,0,0,8]}};
bumpRanges.forEach((b,i)=>{const y1=1177.4-b[0]*471.4,y2=1177.4-b[1]*471.4;R(1743,y1,2.5,y2-y1,{fill:bumpColorsHC[i],z:3});R(1980.5,y1,2.5,y2-y1,{fill:bumpColorsKD[i],z:3});});
T('Cell percentage',1861,681,{size:27,align:'center',color:'#111'});
T('celltype',2011,752.6,{size:23,color:'#111'});

/* ---------- panel F ---------- */
const heatSeries=[];
const gAnn=addGrid({left:FS.heatL,top:1378,width:FS.heatR-FS.heatL,height:22},
 {type:'category',position:'top',data:cellTypes,axisLine:{show:false},axisTick:{show:false},axisLabel:{rotate:50,fontSize:21,fontStyle:'italic',color:'#111',margin:12,interval:0,fontFamily:FONT}},
 {type:'value',min:0,max:1,show:false});
opt.series.push({type:'bar',xAxisIndex:gAnn,yAxisIndex:gAnn,silent:true,barWidth:'98%',data:sampleColors.map(c=>({value:1,itemStyle:{color:c}}))});
heatBlocks.forEach((rows,k)=>{
 const col=clusterColorF[k],mt=miniTop[k],mb=miniBottom[k],ct=clusterTop[k],cb=clusterBottom[k];
 const grid=addGrid({left:FS.heatL,top:ct,width:FS.heatR-FS.heatL,height:cb-ct},
  {type:'category',data:cellTypes,show:false},{type:'category',inverse:true,data:rows.map((r,i)=>i),show:false});
 const data=[];rows.forEach((r,j)=>r.forEach((v,i)=>data.push([i,j,v])));
 heatSeries.push(opt.series.length);
 opt.series.push({type:'heatmap',xAxisIndex:grid,yAxisIndex:grid,silent:true,z:2,progressive:0,emphasis:{disabled:true},data});
 R(FS.heatL,ct,FS.heatR-FS.heatL,cb-ct,{stroke:'#1a1a1a',lw:2,z:6});
 /* cluster colour bar */
 R(1236,ct,24,cb-ct,{fill:col,z:3});
 T('n:'+rows.length,1249,(ct+cb)/2,{size:13,color:'rgba(255,255,255,.75)',align:'center',rot:Math.PI/2});
 /* funnels */
 P([[341,mt],[363,ct],[363,cb],[341,mb]],{fill:'#e9e9e9',z:0});
 P([[1751,ct],[1774,mt],[1774,mb],[1751,cb]],{fill:'#f6f5f3',stroke:'#999',lw:1.3,z:1});
 P([[1261,ct],[1284,boxTop[k]],[1751,boxTop[k]],[1751,boxBottom[k]],[1284,boxBottom[k]],[1261,cb]],{fill:'#f6f5f3',stroke:'#999',lw:1.5,z:1});
 goTerms[k].forEach((t,i)=>T(t,1291,termStart[k]+i*20.5,{size:19.8,color:col}));
 /* gene labels */
 markedGenes[k].forEach(g=>{T(g[0],455,g[1],{size:17,italic:true,color:col,align:'right'});P([[460,g[1]],[469,g[1]],[473,g[2]],[479,g[2]]],{line:true,stroke:'#222',lw:1.5,z:2});});
 /* profile line */
 const gl=addGrid({left:177,top:mt,width:162,height:mb-mt},{type:'category',boundaryGap:false,data:cellTypes,show:false},{type:'value',min:0,max:1,show:false});
 opt.series.push({type:'line',xAxisIndex:gl,yAxisIndex:gl,silent:true,z:5,showSymbol:false,symbol:'none',lineStyle:{color:'#c8282e',width:3.2,join:'miter'},data:lineProfiles[k]});
 R(177,mt,162,mb-mt,{stroke:'#222',lw:1.6,fill:'#fff',z:0});
 const gw=geneSize[k]<10?88:96;
 R(258-gw/2,mt+6.5,gw,23,{stroke:'#222',lw:1.5,fill:'#fff',z:1});
 T('Gene Size: '+geneSize[k],258,mt+18,{size:12.5,italic:true,align:'center',color:'#222',z:1});
 T('C'+(k+1),157,(mt+mb)/2,{size:22,align:'center',rot:Math.PI/2,color:'#111'});
 /* enrichment bars */
 const gb=addGrid({left:1775,top:mt,width:164,height:mb-mt},{type:'value',min:0,max:1.11,show:false},{type:'category',inverse:true,data:goTerms[k].slice(0,5),show:false});
 opt.series.push({type:'bar',xAxisIndex:gb,yAxisIndex:gb,silent:true,z:3,barWidth:'52%',itemStyle:{color:col},data:barProfiles[k]});
 R(1775,mt,164,mb-mt,{stroke:'#111',lw:1.5,z:6});
 const lw=k===9?38:30;
 R(1906-lw/2,mt+7,lw,22,{stroke:'#111',lw:1.6,z:7});
 T('C'+(k+1),1906,mt+18,{size:13,italic:true,align:'center',color:col,z:8});
});
opt.visualMap.push({show:false,type:'continuous',seriesIndex:heatSeries,dimension:2,min:-2,max:2,inRange:{color:zScoreColors}});
/* sample + z-score legends */
T('sample',1948,2006,{size:17,weight:'bold'});
cellTypes.forEach((n,i)=>{const y=2021+i*18.4;R(1949,y,17,16.5,{fill:sampleColors[i],z:3});T(n,1971,y+8.5,{size:17,color:'#222'});});
T('Z\u2212score',1948,2229,{size:17,weight:'bold'});
G.push({type:'rect',z:2,silent:true,shape:{x:1948,y:2243,width:19,height:99},style:{fill:{type:'linear',x:0,y:1,x2:0,y2:0,colorStops:zScoreColors.map((c,i)=>({offset:i/(zScoreColors.length-1),color:c}))}}});
[[2,2247],[1,2270],[0,2292.5],[-1,2315],[-2,2338]].forEach(t=>{T(String(t[0]).replace('-','\u2212'),1972,t[1],{size:17,color:'#222'});P([[1948,t[1]],[1952,t[1]]],{line:true,stroke:'#fff',lw:1.2,z:3});P([[1963,t[1]],[1967,t[1]]],{line:true,stroke:'#fff',lw:1.2,z:3});});

const chart=echarts.init(document.getElementById('c'),null,{renderer:'canvas',width:2122,height:2940});
chart.setOption(opt);
</script></body></html>
